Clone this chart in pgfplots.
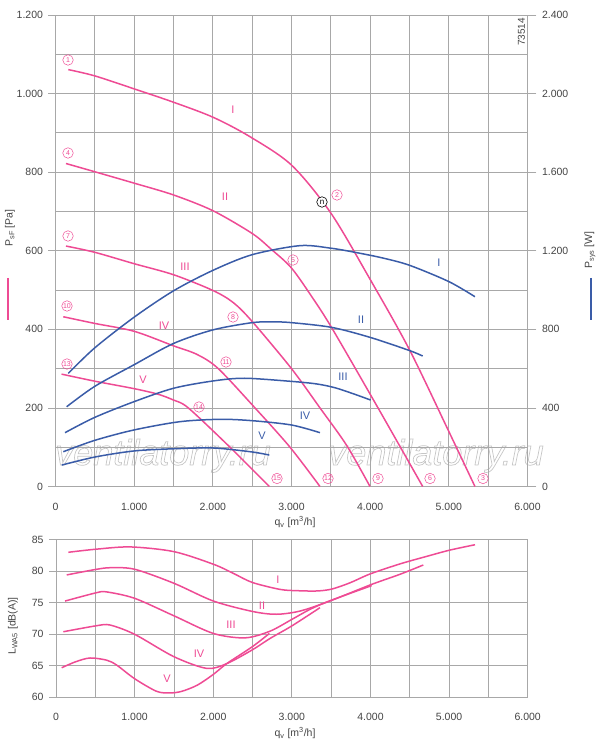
\documentclass[border=0pt]{standalone}
\usepackage{fontspec}
\setmainfont{Liberation Sans}
\usepackage{pgfplots}
\pgfplotsset{compat=1.18}
\definecolor{pk}{HTML}{EE4B94}
\definecolor{bl}{HTML}{3A5CA8}
\definecolor{gr}{HTML}{A8A8A8}
\definecolor{tx}{HTML}{444444}
\pgfplotsset{
  base/.style={scale only axis, xmin=0, xmax=6000,
    xtick={0,1000,...,6000}, minor xtick={500,1500,...,5500},
    major grid style={gr, line width=0.8pt}, minor grid style={gr, line width=0.8pt},
    axis line style={gr, line width=0.8pt}, tick style={gr, line width=0.8pt},
    tick align=outside, minor tick length=0pt, major tick length=7pt,
    xtick style={draw=none},
    /pgf/number format/.cd, 1000 sep={.}, assume math mode=true, /pgfplots/.cd,
    ticklabel style={font=\fontsize{10.5}{12}\selectfont, text=tx},
    xticklabel style={yshift=-6pt}},
  pkl/.style={pk, line width=1.5pt, smooth, no marks},
  bll/.style={bl, line width=1.5pt, smooth, no marks}
}
\tikzset{circ/.style={circle, draw=pk, text=pk, line width=0.5pt, inner sep=0pt, minimum size=10.5pt, font=\fontsize{7}{7}\selectfont}}
\begin{document}
\begin{tikzpicture}[x=1pt,y=1pt]
\useasboundingbox (0,0) rectangle (600,747);
% watermark
\node[anchor=base, text=gray!45, font=\fontsize{36}{40}\selectfont\itshape] at (163,282) {\special{pdf:literal direct 1 Tr 0.7 w}ventilatorry.ru\special{pdf:literal direct 0 Tr}};
\node[anchor=base, text=gray!45, font=\fontsize{36}{40}\selectfont\itshape] at (436,282) {\special{pdf:literal direct 1 Tr 0.7 w}ventilatorry.ru\special{pdf:literal direct 0 Tr}};
% top axis (pressure)
\begin{axis}[base, at={(55.5pt,260.5pt)}, anchor=south west, width=472pt, height=471.5pt,
  ymin=0, ymax=1200, ytick={0,200,...,1200}, minor ytick={100,300,...,1100},
  grid=both, ytick pos=left, yticklabel style={xshift=-2pt}]
\addplot[pkl] coordinates {(163,1061) (500,1045) (1000,1012) (1500,978) (2000,940) (2466,891) (3000,818) (3500,696) (4000,527) (4500,348) (5000,140) (5332,0)};
\addplot[pkl] coordinates {(133,822) (500,801) (1000,772) (1500,742) (2000,702) (2500,644) (2741,604) (3000,556) (3275,478) (3523,400) (4100,200) (4668,0)};
\addplot[pkl] coordinates {(133,612) (500,596) (1000,567) (1500,539) (2000,499) (2260,468) (2500,420) (3000,300) (3362,200) (3700,105) (3998,0)};
\addplot[pkl] coordinates {(99,432) (500,415) (1000,395) (1500,358) (1800,336) (2069,300) (2536,200) (2981,100) (3362,0)};
\addplot[pkl] coordinates {(77,286) (500,268) (1000,249) (1300,235) (1500,220) (1688,200) (2218,100) (2718,0)};
\end{axis}
% top axis (power)
\begin{axis}[base, at={(55.5pt,260.5pt)}, anchor=south west, width=472pt, height=471.5pt,
  ymin=0, ymax=2400, ytick={0,400,...,2400}, axis y line*=right, hide x axis,
  major tick length=9pt, ytick pos=right, yticklabel style={xshift=2pt}]
\addplot[bll] coordinates {(163,576) (500,706) (1000,862) (1500,996) (2000,1100) (2500,1180) (3108,1226) (3500,1213) (3807,1192) (4150,1164) (4500,1126) (5000,1043) (5332,966)};
\addplot[bll] coordinates {(142,406) (500,510) (1000,620) (1500,728) (2000,797) (2500,834) (2769,838) (3000,834) (3510,810) (4000,759) (4500,692) (4668,664)};
\addplot[bll] coordinates {(121,274) (500,352) (1000,432) (1500,500) (2000,537) (2400,551) (3000,535) (3320,522) (3550,503) (3800,470) (4006,440)};
\addplot[bll] coordinates {(99,177) (500,235) (1000,288) (1583,330) (2091,342) (2500,335) (3000,313) (3362,274)};
\addplot[bll] coordinates {(79,109) (500,150) (1000,181) (1500,192) (2006,196) (2494,176) (2718,160)};
\end{axis}
% bottom axis (sound)
\begin{axis}[base, at={(56pt,50pt)}, anchor=south west, width=471.7pt, height=157.3pt,
  ymin=60, ymax=85, ytick={60,65,...,85}, grid=both, ytick pos=left, yticklabel style={xshift=-2pt}]
\addplot[pkl] coordinates {(157,83.0) (517,83.5) (950,83.85) (1501,83.1) (2002,81.1) (2256,79.65) (2498,78.2) (2850,77.1) (3063,76.9) (3316,76.85) (3507,77.15) (3740,78.15) (3994,79.55) (4375,81.15) (4715,82.35) (5011,83.35) (5330,84.2)};
\addplot[pkl] coordinates {(136,79.4) (517,80.3) (700,80.55) (1001,80.3) (1501,78.07) (2002,75.25) (2498,73.6) (2800,73.15) (3104,73.66) (3485,75.26) (3994,77.8) (4375,79.5) (4672,80.98)};
\addplot[pkl] coordinates {(115,75.25) (517,76.58) (645,76.7) (1001,75.68) (1501,72.9) (2002,70.1) (2405,69.4) (2722,70.46) (3000,72.33) (3231,73.93) (3485,75.3) (4015,77.7)};
\addplot[pkl] coordinates {(93,70.37) (517,71.33) (687,71.44) (1001,69.96) (1501,66.4) (1917,64.55) (2171,65.3) (2498,67.5) (2722,69.3) (3000,71.3) (3358,74.2)};
\addplot[pkl] coordinates {(72,64.65) (250,65.6) (432,66.2) (645,65.85) (772,65.07) (1001,62.9) (1280,60.9) (1450,60.65) (1600,60.9) (1800,61.9) (2002,63.6) (2171,65.3) (2498,68.0) (2714,70.1)};
\end{axis}
% axis titles
\node[rotate=90, text=tx, font=\fontsize{10.5}{12}\selectfont] at (10,519) {P\textsubscript{sF} [Pa]};
\draw[pk, line width=1.2pt] (8,469) -- (8,427);
\node[rotate=90, text=tx, font=\fontsize{10.5}{12}\selectfont] at (590,497) {P\textsubscript{sys} [W]};
\draw[bl, line width=1.2pt] (591,469) -- (591,427);
\node[rotate=90, text=tx, font=\fontsize{10.5}{12}\selectfont] at (13,121) {L\textsubscript{WA5} [dB(A)]};
\node[text=tx, font=\fontsize{10.5}{12}\selectfont] at (295,225) {q\textsubscript{v} [m\textsuperscript{3}/h]};
\node[text=tx, font=\fontsize{10.5}{12}\selectfont] at (295,14) {q\textsubscript{v} [m\textsuperscript{3}/h]};
\node[rotate=90, text=tx, font=\fontsize{10}{12}\selectfont] at (521.5,715) {73514};
% curve labels
\begin{scope}[font=\fontsize{11}{12}\selectfont]
\node[text=pk] at (233,637) {I};
\node[text=pk] at (225,550) {II};
\node[text=pk] at (185,480) {III};
\node[text=pk] at (164,421) {IV};
\node[text=pk] at (143,367) {V};
\node[text=bl] at (439,484) {I};
\node[text=bl] at (361,427) {II};
\node[text=bl] at (343,370) {III};
\node[text=bl] at (305,331) {IV};
\node[text=bl] at (262,311) {V};
\node[text=pk] at (278,167) {I};
\node[text=pk] at (262,141) {II};
\node[text=pk] at (231,122) {III};
\node[text=pk] at (199,93) {IV};
\node[text=pk] at (167,68) {V};
\end{scope}
% circled numbers
\node[circ] at (68,687) {1};
\node[circ] at (68,594) {4};
\node[circ] at (68,511) {7};
\node[circ] at (67,441) {10};
\node[circ] at (67,383) {13};
\node[circ] at (337,552) {2};
\node[circ] at (293,487) {5};
\node[circ] at (233,430) {8};
\node[circ] at (226,385) {11};
\node[circ] at (199,340) {14};
\node[circ] at (483,268.5) {3};
\node[circ] at (430,268.5) {6};
\node[circ] at (378,268.5) {9};
\node[circ] at (328,268.5) {12};
\node[circ] at (277,268.5) {15};
\node[circle, draw=black, fill=white, text=black, line width=0.6pt, inner sep=0pt, minimum size=10.5pt, font=\fontsize{8}{8}\selectfont] at (322,545) {n};
\end{tikzpicture}
\end{document}
